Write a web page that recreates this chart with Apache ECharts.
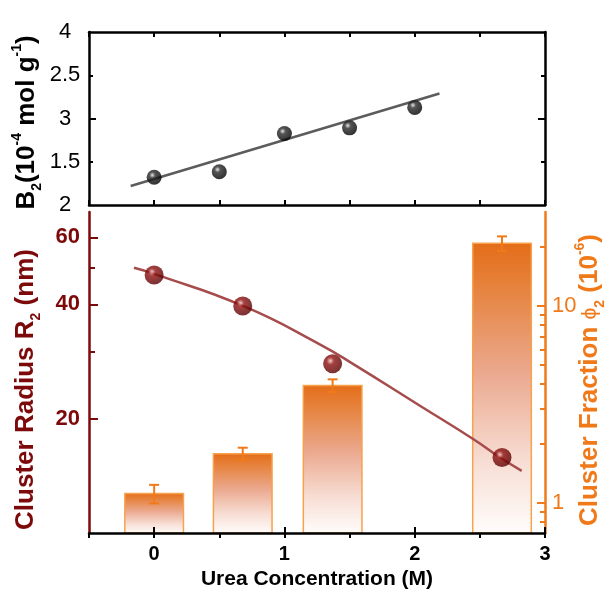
<!DOCTYPE html>
<html><head><meta charset="utf-8">
<script src="https://cdn.jsdelivr.net/npm/echarts@6/dist/echarts.min.js"></script>
<style>html,body{margin:0;padding:0;background:#fff}#c{width:610px;height:599px}</style>
</head><body><div id="c"></div>
<script>
// ---- Top panel: B2 vs urea ----
const b2Urea = [0, 0.5, 1, 1.5, 2];
const b2Values = [2.32, 2.384, 2.827, 2.892, 3.128];
const b2FitUrea = [-0.18, 2.19];
const b2FitValues = [2.219, 3.289];
const b2TickValues = [2, 2.5, 3, 3.5, 4];
const b2TickLabels = ['2', '1.5', '3', '2.5', '4'];
const b2MajorTicks = [3];
const b2MinorTicks = [2.5, 3.5];

// ---- Bottom panel: cluster radius & fraction ----
const urea = [0, 0.68, 1.37, 2.67];
const radius = [47.8, 39.6, 27.9, 15.8];
const radiusFitUrea = [-0.155, 0, 0.683, 1.278, 1.532, 2.043, 2.451, 2.655, 2.821];
const radiusFitValues = [49.9, 48.1, 39.6, 31.3, 27.8, 21.6, 17.65, 15.8, 14.58];
const fraction = [1.11, 1.77, 3.94, 20.8];
const fractionErr = [0.12, 0.13, 0.29, 1.75];
const ureaTickLabels = [0, 1, 2, 3];
const radiusTicks = [20, 40, 60];
const radiusMinorTicks = [30, 50];
const fractionTicks = [1, 10];
const fractionMinorTicks = [0.8, 0.9, 2, 3, 4, 5, 6, 7, 8, 9, 20];

const FONT = '"Liberation Sans", Arial, Helvetica, sans-serif';
const DARKRED = '#7d0a0a';
const ORANGE = '#f07a1a';
const X_MIN = -0.5, X_MAX = 3;
const R_MIN = 10, R_MAX = 70;
const PHI_MIN = 0.7, PHI_MAX = 30;
const BAR_W = 0.45;

const chart = echarts.init(document.getElementById('c'), null, {renderer: 'canvas'});

function richFor(color, size) {
  return {
    sub: {fontSize: Math.round(size * 0.55), fontWeight: 'bold', color, fontFamily: FONT, verticalAlign: 'bottom', lineHeight: Math.round(size * 0.6)},
    sup: {fontSize: Math.round(size * 0.55), fontWeight: 'bold', color, fontFamily: FONT, verticalAlign: 'top', lineHeight: Math.round(size * 0.6)},
    phi: {fontSize: Math.round(size * 0.8), fontWeight: 'normal', color, fontFamily: FONT}
  };
}
function nameStyle(color, size, pad) {
  return {color, fontSize: size, fontWeight: 'bold', fontFamily: FONT, lineHeight: Math.round(size * 1.3), padding: pad, rich: richFor(color, size)};
}

const sphere = (hi, mid, dark) => ({
  type: 'radial', x: 0.38, y: 0.35, r: 0.65,
  colorStops: [{offset: 0, color: hi}, {offset: 0.3, color: mid}, {offset: 1, color: dark}]
});

const hiddenTopX = (pos) => ({
  gridIndex: 0, type: 'value', min: X_MIN, max: X_MAX, interval: 0.5, position: pos,
  axisLine: {show: true, onZero: false, lineStyle: {color: '#000', width: 2.5}},
  axisTick: {show: true, inside: true, length: 5, lineStyle: {color: '#000', width: 2}},
  axisLabel: {show: false}, splitLine: {show: false}
});

const option = {
  backgroundColor: '#fff',
  animation: false,
  grid: [
    {left: 89, right: 65, top: 32, height: 173, outerBoundsMode: 'none'},
    {left: 89, right: 65, top: 212, height: 321, outerBoundsMode: 'none'}
  ],
  xAxis: [
    hiddenTopX('bottom'),
    hiddenTopX('top'),
    {
      gridIndex: 1, type: 'value', min: X_MIN, max: X_MAX, interval: 0.5, position: 'bottom', z: 5,
      axisLine: {show: true, onZero: false, lineStyle: {color: '#000', width: 2.5}},
      axisTick: {show: true, inside: false, length: 5, lineStyle: {color: '#000', width: 2}},
      axisLabel: {margin: 11, fontSize: 20, fontWeight: 'bold', color: '#000', fontFamily: FONT,
        formatter: v => ureaTickLabels.indexOf(Math.round(v * 100) / 100) >= 0 ? String(Math.round(v)) : ''},
      splitLine: {show: false},
      name: 'Urea Concentration (M)', nameLocation: 'middle', nameGap: 36, nameMoveOverlap: false,
      nameTextStyle: {color: '#000', fontSize: 21, fontWeight: 'bold', fontFamily: FONT}
    },
    {
      gridIndex: 1, type: 'value', min: X_MIN, max: X_MAX, position: 'bottom', z: 5,
      axisLine: {show: false, onZero: false},
      axisTick: {show: true, inside: true, length: 6, customValues: ureaTickLabels, lineStyle: {color: '#000', width: 2}},
      axisLabel: {show: false}, splitLine: {show: false}
    }
  ],
  yAxis: [
    { // 0 top-left labels
      gridIndex: 0, type: 'value', min: 2, max: 4, interval: 0.5, position: 'left',
      axisLine: {show: true, onZero: false, lineStyle: {color: '#000', width: 2.5}},
      axisTick: {show: true, inside: true, length: 7, customValues: b2MajorTicks, lineStyle: {color: '#000', width: 2}},
      axisLabel: {show: true, showMinLabel: true, showMaxLabel: true, align: 'center', margin: 24, fontSize: 22, color: '#000', fontFamily: FONT, padding: [0, 0, 10, 0],
        formatter: v => { const i = b2TickValues.findIndex(t => Math.abs(t - v) < 1e-6); return i >= 0 ? b2TickLabels[i] : ''; }},
      splitLine: {show: false},
      name: 'B{sub|2}(10{sup|-4} mol g{sup|-1})', nameLocation: 'middle', nameRotate: 90, nameGap: 45, nameMoveOverlap: false,
      nameTextStyle: nameStyle('#000', 26, [0, 8, 0, 0])
    },
    { // 1 top-right
      gridIndex: 0, type: 'value', min: 2, max: 4, interval: 0.5, position: 'right',
      axisLine: {show: true, onZero: false, lineStyle: {color: '#000', width: 2.5}},
      axisTick: {show: true, inside: true, length: 7, customValues: b2MajorTicks, lineStyle: {color: '#000', width: 2}},
      axisLabel: {show: false}, splitLine: {show: false}
    },
    { // 2 top-left minor
      gridIndex: 0, type: 'value', min: 2, max: 4, position: 'left',
      axisLine: {show: false, onZero: false},
      axisTick: {show: true, inside: true, length: 4, customValues: b2MinorTicks, lineStyle: {color: '#000', width: 2}},
      axisLabel: {show: false}, splitLine: {show: false}
    },
    { // 3 top-right minor
      gridIndex: 0, type: 'value', min: 2, max: 4, position: 'right',
      axisLine: {show: false, onZero: false},
      axisTick: {show: true, inside: true, length: 4, customValues: b2MinorTicks, lineStyle: {color: '#000', width: 2}},
      axisLabel: {show: false}, splitLine: {show: false}
    },
    { // 4 bottom-left radius (log)
      gridIndex: 1, type: 'log', logBase: 10, min: R_MIN, max: R_MAX, position: 'left',
      axisLine: {show: true, onZero: false, lineStyle: {color: DARKRED, width: 2.5}},
      axisTick: {show: true, inside: true, length: 9, customValues: radiusTicks, lineStyle: {color: DARKRED, width: 2}},
      axisLabel: {show: true, customValues: radiusTicks, margin: 9, fontSize: 22, fontWeight: 'bold', color: DARKRED, fontFamily: FONT},
      splitLine: {show: false}, minorTick: {show: false},
      name: 'Cluster Radius R{sub|2} (nm)', nameLocation: 'middle', nameRotate: 90, nameGap: 46, nameMoveOverlap: false,
      nameTextStyle: nameStyle(DARKRED, 26, [0, 34, 0, 0])
    },
    { // 5 bottom-left minor
      gridIndex: 1, type: 'log', logBase: 10, min: R_MIN, max: R_MAX, position: 'left',
      axisLine: {show: false, onZero: false},
      axisTick: {show: true, inside: true, length: 6, customValues: radiusMinorTicks, lineStyle: {color: DARKRED, width: 2}},
      axisLabel: {show: false}, splitLine: {show: false}
    },
    { // 6 bottom-right fraction (log)
      gridIndex: 1, type: 'log', logBase: 10, min: PHI_MIN, max: PHI_MAX, position: 'right',
      axisLine: {show: true, onZero: false, lineStyle: {color: ORANGE, width: 2.5}},
      axisTick: {show: true, inside: true, length: 8, customValues: fractionTicks, lineStyle: {color: ORANGE, width: 2}},
      axisLabel: {show: true, customValues: fractionTicks, margin: 7, fontSize: 22, color: ORANGE, fontFamily: FONT},
      splitLine: {show: false},
      name: 'Cluster Fraction {phi|ϕ}{sub|2} (10{sup|-6})', nameLocation: 'middle', nameRotate: 90, nameGap: 28, nameMoveOverlap: false,
      nameTextStyle: nameStyle(ORANGE, 26, [0, 15, 0, 0])
    },
    { // 7 bottom-right minor
      gridIndex: 1, type: 'log', logBase: 10, min: PHI_MIN, max: PHI_MAX, position: 'right',
      axisLine: {show: false, onZero: false},
      axisTick: {show: true, inside: true, length: 5, customValues: fractionMinorTicks, lineStyle: {color: ORANGE, width: 2}},
      axisLabel: {show: false}, splitLine: {show: false}
    }
  ],
  series: [
    {
      type: 'line', xAxisIndex: 0, yAxisIndex: 0, symbol: 'none', silent: true,
      lineStyle: {color: '#5c5c5c', width: 2.5},
      data: b2FitUrea.map((x, i) => [x, b2FitValues[i]])
    },
    {
      type: 'scatter', xAxisIndex: 0, yAxisIndex: 0, symbolSize: 15, z: 4,
      itemStyle: {color: sphere('#e0e0e0', '#2a2a2a', '#000000')},
      data: b2Urea.map((x, i) => [x, b2Values[i]])
    },
    {
      type: 'custom', xAxisIndex: 2, yAxisIndex: 6,
      encode: {x: 0, y: 1},
      data: urea.map((x, i) => [x, fraction[i]]),
      renderItem: (params, api) => {
        const x = api.value(0), v = api.value(1);
        const top = api.coord([x, v]);
        const base = api.coord([x, PHI_MIN]);
        const l = api.coord([x - BAR_W / 2, v])[0];
        const r = api.coord([x + BAR_W / 2, v])[0];
        return {
          type: 'rect',
          shape: {x: l, y: top[1], width: r - l, height: base[1] - top[1]},
          style: {
            fill: {type: 'linear', x: 0, y: 0, x2: 0, y2: 1, colorStops: [
              {offset: 0, color: '#e46d18'},
              {offset: 0.15, color: '#e6823c'},
              {offset: 0.45, color: '#eba98f'},
              {offset: 0.75, color: '#f7ddd3'},
              {offset: 1, color: '#fffdfc'}
            ]},
            stroke: '#f7a24e', lineWidth: 1.5
          }
        };
      }
    },
    {
      type: 'custom', xAxisIndex: 2, yAxisIndex: 6,
      encode: {x: 0, y: 1},
      data: urea.map((x, i) => [x, fraction[i], fractionErr[i]]),
      renderItem: (params, api) => {
        const x = api.value(0), v = api.value(1), e = api.value(2);
        const hi = api.coord([x, v + e]), lo = api.coord([x, v - e]);
        const cap = 5;
        const style = {stroke: ORANGE, lineWidth: 2, fill: 'none'};
        return {type: 'group', children: [
          {type: 'line', shape: {x1: hi[0], y1: hi[1], x2: lo[0], y2: lo[1]}, style},
          {type: 'line', shape: {x1: hi[0] - cap, y1: hi[1], x2: hi[0] + cap, y2: hi[1]}, style},
          {type: 'line', shape: {x1: lo[0] - cap, y1: lo[1], x2: lo[0] + cap, y2: lo[1]}, style}
        ]};
      }
    },
    {
      type: 'line', xAxisIndex: 2, yAxisIndex: 4, symbol: 'none', smooth: true, silent: true,
      lineStyle: {color: '#a64c4c', width: 2.5},
      data: radiusFitUrea.map((x, i) => [x, radiusFitValues[i]])
    },
    {
      type: 'scatter', xAxisIndex: 2, yAxisIndex: 4, symbolSize: 19, z: 4,
      itemStyle: {color: sphere('#f2c4c4', '#8e1010', '#5a0000')},
      data: urea.map((x, i) => [x, radius[i]])
    }
  ]
};
chart.setOption(option);
</script>
</body></html>
